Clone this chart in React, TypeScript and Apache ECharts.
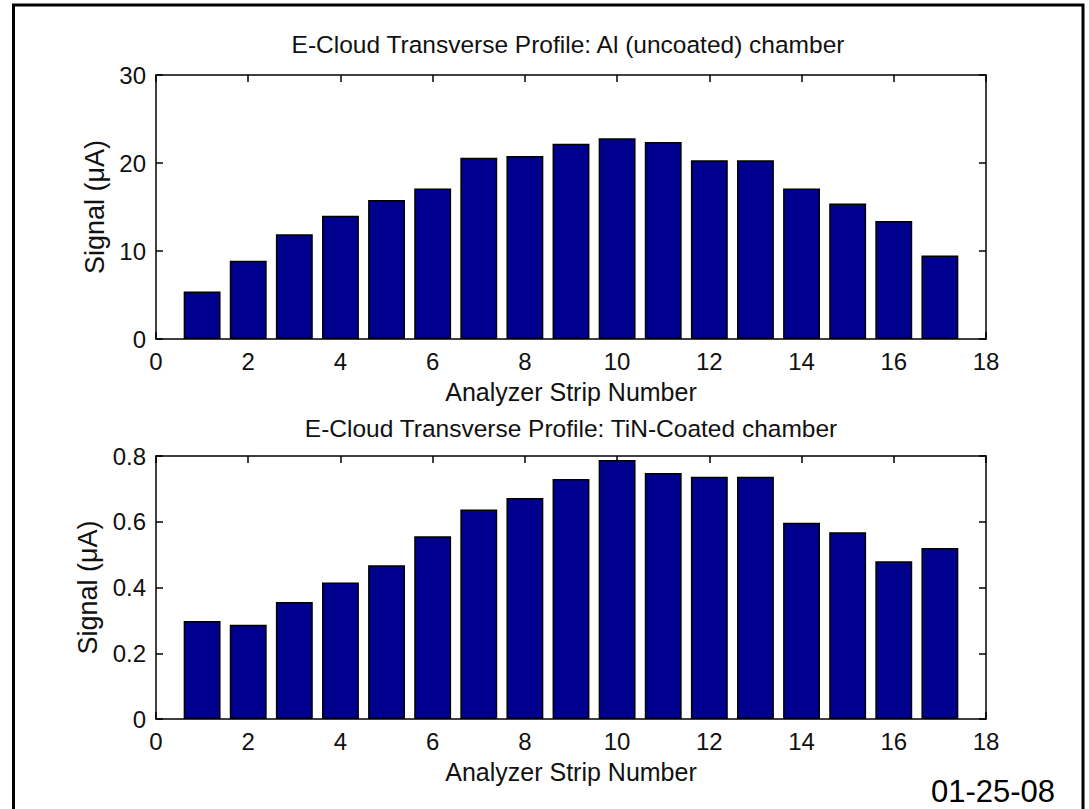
import React, { useEffect, useRef } from "react";
import * as echarts from "echarts";

const strips = [1, 2, 3, 4, 5, 6, 7, 8, 9, 10, 11, 12, 13, 14, 15, 16, 17];
const alSignal = [5.4, 8.9, 11.9, 14.0, 15.8, 17.1, 20.6, 20.8, 22.2, 22.8, 22.4, 20.3, 20.3, 17.1, 15.4, 13.4, 9.5];
const tinSignal = [0.298, 0.287, 0.356, 0.415, 0.468, 0.556, 0.637, 0.672, 0.73, 0.788, 0.748, 0.737, 0.737, 0.597, 0.568, 0.48, 0.52];

const topTitle = "E-Cloud Transverse Profile: Al (uncoated) chamber";
const bottomTitle = "E-Cloud Transverse Profile: TiN-Coated chamber";
const xName = "Analyzer Strip Number";
const yName = "Signal (\u03bcA)";
const dateLabel = "01-25-08";

const FONT = "'Liberation Sans', Arial, sans-serif";
const BAR = "#00008F";
const TXT = "#111";

export default function App() {
  const ref = useRef<HTMLDivElement>(null);
  useEffect(() => {
    if (!ref.current) return;
    const chart = echarts.init(ref.current, null, { renderer: "svg" });
    const gridW = 830;
    const barW = (gridW / 18) * 0.8;
    const lineStyle = { color: "#000", width: 1.5 };
    const mainX = (gi: number) => ({
      type: "value",
      gridIndex: gi,
      min: 0,
      max: 18,
      interval: 2,
      position: "bottom",
      name: xName,
      nameLocation: "middle",
      nameGap: 40,
      nameTextStyle: { fontFamily: FONT, fontSize: 25, color: TXT },
      axisLine: { show: true, onZero: false, lineStyle },
      axisTick: { show: true, inside: true, length: 7, lineStyle },
      axisLabel: { fontFamily: FONT, fontSize: 24, color: TXT, margin: 10 },
      splitLine: { show: false },
    });
    const topX = (gi: number) => ({
      type: "value",
      gridIndex: gi,
      min: 0,
      max: 18,
      interval: 2,
      position: "top",
      axisLine: { show: true, onZero: false, lineStyle },
      axisTick: { show: true, inside: true, length: 7, lineStyle },
      axisLabel: { show: false },
      splitLine: { show: false },
    });
    const leftY = (gi: number, max: number, interval: number) => ({
      type: "value",
      gridIndex: gi,
      min: 0,
      max,
      interval,
      position: "left",
      name: yName,
      nameLocation: "middle",
      nameRotate: 90,
      nameGap: 46,
      nameTextStyle: { fontFamily: FONT, fontSize: 27, color: TXT },
      axisLine: { show: true, onZero: false, lineStyle },
      axisTick: { show: true, inside: true, length: 7, lineStyle },
      axisLabel: { fontFamily: FONT, fontSize: 24, color: TXT, margin: 10 },
      splitLine: { show: false },
    });
    const rightY = (gi: number, max: number, interval: number) => ({
      type: "value",
      gridIndex: gi,
      min: 0,
      max,
      interval,
      position: "right",
      axisLine: { show: true, onZero: false, lineStyle },
      axisTick: { show: true, inside: true, length: 7, lineStyle },
      axisLabel: { show: false },
      splitLine: { show: false },
    });
    chart.setOption({
      animation: false,
      backgroundColor: "#fff",
      title: [
        {
          text: topTitle,
          left: 568,
          top: 32,
          textAlign: "center",
          padding: 0,
          textStyle: { fontFamily: FONT, fontSize: 24.5, fontWeight: "normal", color: TXT },
        },
        {
          text: bottomTitle,
          left: 571,
          top: 416,
          textAlign: "center",
          padding: 0,
          textStyle: { fontFamily: FONT, fontSize: 24.5, fontWeight: "normal", color: TXT },
        },
      ],
      grid: [
        { left: 156, top: 75, width: gridW, height: 264, containLabel: false, outerBoundsMode: "none" },
        { left: 156, top: 456, width: gridW, height: 263, containLabel: false, outerBoundsMode: "none" },
      ],
      xAxis: [mainX(0), topX(0), mainX(1), topX(1)],
      yAxis: [leftY(0, 30, 10), rightY(0, 30, 10), leftY(1, 0.8, 0.2), rightY(1, 0.8, 0.2)],
      series: [
        {
          type: "bar",
          xAxisIndex: 0,
          yAxisIndex: 0,
          barWidth: barW,
          data: strips.map((s, i) => [s, alSignal[i]]),
          itemStyle: { color: BAR, borderColor: "#000", borderWidth: 1.5 },
        },
        {
          type: "bar",
          xAxisIndex: 2,
          yAxisIndex: 2,
          barWidth: barW,
          data: strips.map((s, i) => [s, tinSignal[i]]),
          itemStyle: { color: BAR, borderColor: "#000", borderWidth: 1.5 },
        },
      ],
      graphic: [
        {
          type: "rect",
          shape: { x: 13.5, y: 5, width: 1069.5, height: 830 },
          style: { fill: "none", stroke: "#000", lineWidth: 3 },
          silent: true,
        },
        {
          type: "text",
          x: 993,
          y: 791,
          style: {
            text: dateLabel,
            fontFamily: FONT,
            fontSize: 31,
            fill: "#000",
            textAlign: "center",
            textVerticalAlign: "middle",
          },
        },
      ],
    });
    return () => chart.dispose();
  }, []);
  return (
    <div
      ref={ref}
      style={{ position: "absolute", left: 0, top: 0, width: 1089, height: 809, background: "#fff" }}
    />
  );
}
